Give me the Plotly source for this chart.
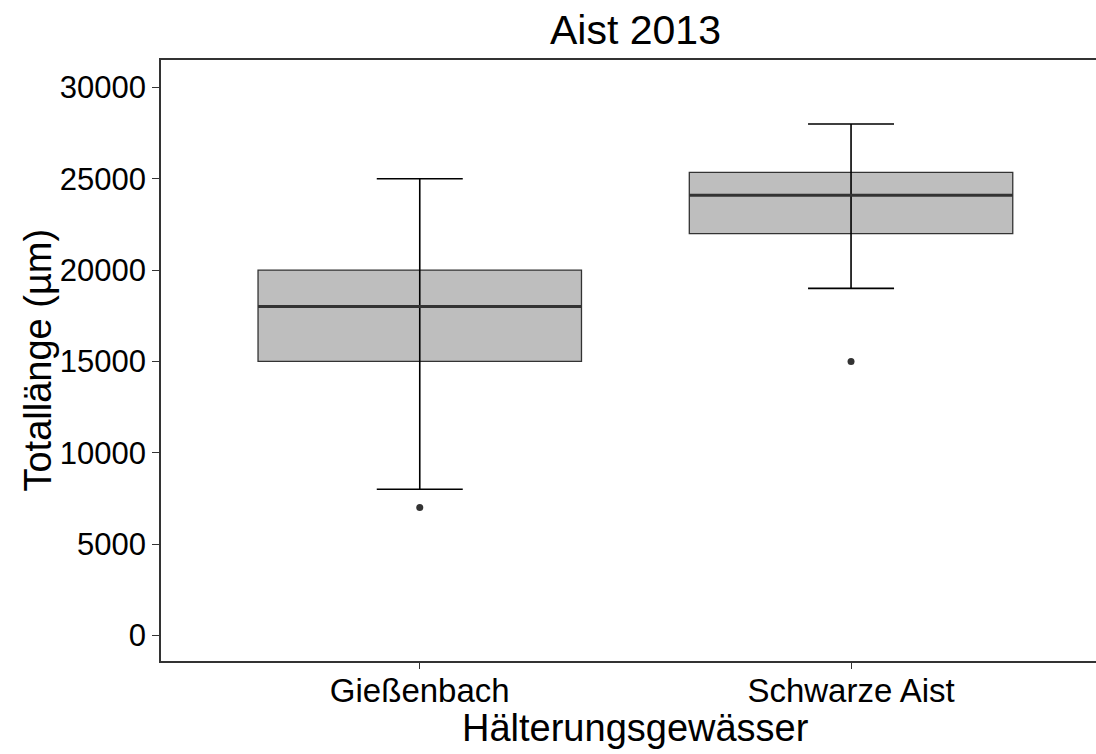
import plotly.graph_objects as go

categories = ["Gießenbach", "Schwarze Aist"]
lower_whisker = [8000, 19000]
q1 = [15000, 22000]
median = [18000, 24100]
q3 = [20000, 25350]
upper_whisker = [25000, 28000]
outlier_x = ["Gießenbach", "Schwarze Aist"]
outlier_y = [7000, 15000]
y_ticks = [0, 5000, 10000, 15000, 20000, 25000, 30000]

pos = list(range(len(categories)))
out_pos = [categories.index(c) for c in outlier_x]

FONT = "Liberation Sans, Arial, sans-serif"
DARK = "#333333"

fig = go.Figure()

fig.add_trace(go.Box(
    x=pos, q1=q1, median=median, q3=q3,
    lowerfence=q1, upperfence=q3,
    width=0.75, fillcolor="#BEBEBE",
    line=dict(color=DARK, width=1.3),
    whiskerwidth=0, boxpoints=False, hoverinfo="skip",
))

# whiskers (errorbar) drawn over box
fig.add_trace(go.Scatter(
    x=pos, y=median, mode="markers",
    marker=dict(size=0.1, color="rgba(0,0,0,0)"),
    error_y=dict(type="data", symmetric=False,
                 array=[u - m for u, m in zip(upper_whisker, median)],
                 arrayminus=[m - l for m, l in zip(median, lower_whisker)],
                 width=43, thickness=1.6, color="black"),
    hoverinfo="skip",
))

# thicker median line
fig.add_trace(go.Scatter(
    x=pos, y=median, mode="markers",
    marker=dict(size=0.1, color="rgba(0,0,0,0)"),
    error_x=dict(type="constant", value=0.375, width=0, thickness=3, color=DARK),
    hoverinfo="skip",
))

fig.add_trace(go.Scatter(
    x=out_pos, y=outlier_y, mode="markers",
    marker=dict(size=7, color=DARK), hoverinfo="skip",
))

fig.update_layout(
    width=1096, height=754,
    margin=dict(l=161, r=0, t=60, b=93),
    paper_bgcolor="white", plot_bgcolor="white",
    showlegend=False,
    font=dict(family=FONT, color="black"),
    xaxis=dict(
        range=[-0.6, 1.568], tickvals=pos, ticktext=categories,
        showgrid=False, zeroline=False,
        showline=True, linecolor=DARK, linewidth=1.5, mirror=True,
        ticks="outside", ticklen=6, tickcolor=DARK, tickwidth=1,
        ticklabelstandoff=-6,
        tickfont=dict(size=33, color="black", family=FONT),
    ),
    yaxis=dict(
        range=[-1400, 31500], tickvals=y_ticks, tickformat="d",
        showgrid=False, zeroline=False,
        showline=True, linecolor=DARK, linewidth=1.5,
        ticks="outside", ticklen=7, tickcolor=DARK, tickwidth=1,
        tickfont=dict(size=31, color="black", family=FONT),
    ),
    annotations=[
        dict(text="Aist 2013", xref="paper", yref="paper", x=0.507, y=1.05,
             xanchor="center", yanchor="middle", showarrow=False,
             font=dict(size=41, color="black", family=FONT)),
        dict(text="Hälterungsgewässer", xref="paper", yref="paper", x=0.507, y=-0.111,
             xanchor="center", yanchor="middle", showarrow=False,
             font=dict(size=38, color="black", family=FONT)),
        dict(text="Totallänge (µm)", xref="paper", yref="paper", x=-0.1326, y=0.5,
             xanchor="center", yanchor="middle", textangle=-90, showarrow=False,
             font=dict(size=38, color="black", family=FONT)),
    ],
)

fig.write_html("out.html", config={"displayModeBar": False},
               post_script="document.body.style.margin='0px';document.body.style.overflow='hidden';")
